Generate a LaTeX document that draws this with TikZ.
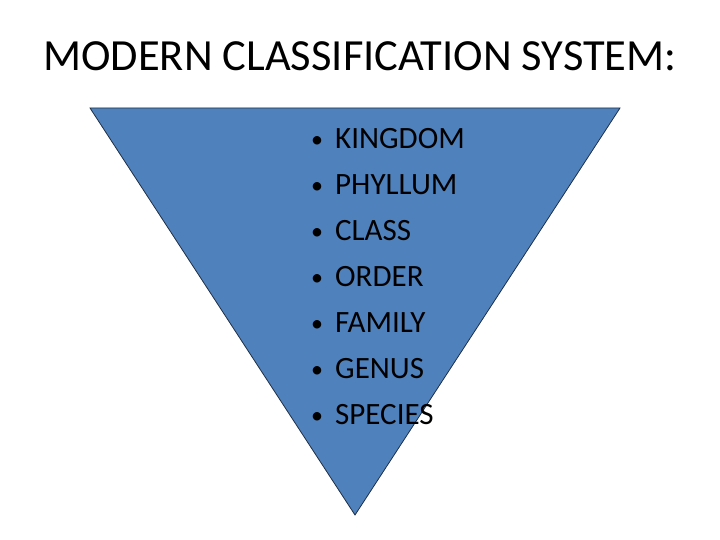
\documentclass[tikz,border=0pt]{standalone}
\usepackage{fontspec}
\setmainfont{Carlito}
\usepackage{xcolor}
\definecolor{wedgeBlue}{HTML}{4F81BD}
\definecolor{wedgeEdge}{HTML}{1F2F45}

\begin{document}
\begin{tikzpicture}[x=1pt,y=-1pt,
  title/.style={anchor=base,font=\fontsize{44.5}{52}\selectfont,inner sep=0pt},
  rank/.style={anchor=base west,font=\fontsize{31}{36}\selectfont,inner sep=0pt},
  dot/.style={anchor=base,font=\fontsize{24}{30}\selectfont,inner sep=0pt}]
  \useasboundingbox (0,0) rectangle (720,540);
  % the wedge
  \coordinate (tl) at (90,108);
  \coordinate (tr) at (620,108);
  \coordinate (tip) at (355,515);
  \draw[wedgeEdge,fill=wedgeBlue,line width=0.8pt,line join=miter] (tl) -- (tr) -- (tip) -- cycle;

  \node[title] (head) at (360,71) {MODERN CLASSIFICATION SYSTEM:};

  \foreach \name [count=\i] in {KINGDOM,PHYLLUM,CLASS,ORDER,FAMILY,GENUS,SPECIES}{
    \node[dot] (b\i) at (317,147.5+46*\i-46) {\textbullet};
    \node[rank] (r\i) at (335,148.5+46*\i-46) {\name};
  }
\end{tikzpicture}
\end{document}
